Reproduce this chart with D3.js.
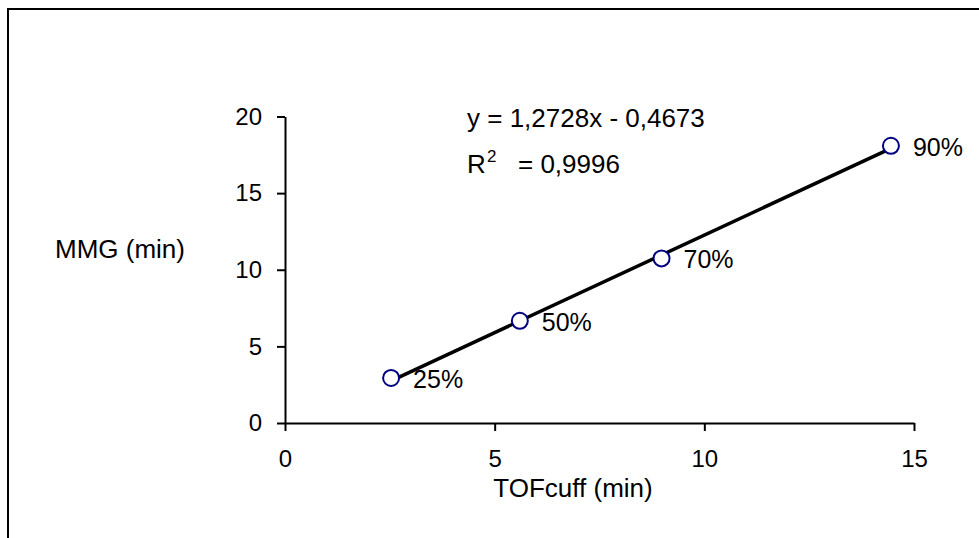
<!DOCTYPE html>
<html>
<head>
<meta charset="utf-8">
<script src="https://cdn.jsdelivr.net/npm/d3@7"></script>
<style>
  body { margin: 0; background: #fff; }
  svg text { font-family: Arial, "Liberation Sans", sans-serif; fill: #000; }
</style>
</head>
<body>
<div id="chart"></div>
<script>
// data
const tofCuff = [2.53, 5.60, 8.98, 14.45];
const mmg = [2.94, 6.67, 10.74, 18.09];
const pointLabels = ["25%", "50%", "70%", "90%"];
const xTicks = [0, 5, 10, 15];
const yTicks = [0, 5, 10, 15, 20];
const slope = 1.2728, intercept = -0.4673;
const eqText = "y = 1,2728x - 0,4673";
const r2Text = "= 0,9996";

const W = 979, H = 538;
const svg = d3.select("#chart").append("svg")
  .attr("width", W).attr("height", H);

// outer frame (runs off the right and bottom edges)
svg.append("rect")
  .attr("x", 8).attr("y", 9)
  .attr("width", 1000).attr("height", 600)
  .attr("fill", "none").attr("stroke", "#000").attr("stroke-width", 2);

const x = d3.scaleLinear().domain([0, 15]).range([285, 914]);
const y = d3.scaleLinear().domain([0, 20]).range([423, 116.5]);

// axes
const xAxis = svg.append("g")
  .attr("transform", `translate(0,${y(0)})`)
  .call(d3.axisBottom(x).tickValues(xTicks).tickSize(8).tickSizeOuter(0).tickPadding(19));
const yAxis = svg.append("g")
  .attr("transform", `translate(${x(0)},0)`)
  .call(d3.axisLeft(y).tickValues(yTicks).tickSize(8).tickSizeOuter(0).tickPadding(15));

[xAxis, yAxis].forEach(a => {
  a.select(".domain").attr("stroke", "#000").attr("stroke-width", 2);
  a.selectAll(".tick line").attr("stroke", "#000").attr("stroke-width", 2);
  a.selectAll(".tick text").attr("font-size", 24).attr("font-family", "Arial, 'Liberation Sans', sans-serif");
});

// trendline from the fitted equation
const xMin = d3.min(tofCuff), xMax = d3.max(tofCuff);
svg.append("line")
  .attr("x1", x(xMin)).attr("y1", y(slope * xMin + intercept))
  .attr("x2", x(xMax)).attr("y2", y(slope * xMax + intercept))
  .attr("stroke", "#000").attr("stroke-width", 3.5);

// points
const pts = tofCuff.map((v, i) => ({ x: v, y: mmg[i], label: pointLabels[i] }));
svg.selectAll(".pt")
  .data(pts)
  .enter()
  .append("circle")
  .attr("class", "pt")
  .attr("cx", d => x(d.x)).attr("cy", d => y(d.y))
  .attr("r", 8)
  .attr("fill", "#fff").attr("stroke", "#000080").attr("stroke-width", 2);

svg.selectAll(".ptlabel")
  .data(pts)
  .enter()
  .append("text")
  .attr("class", "ptlabel")
  .attr("x", d => x(d.x) + 22).attr("y", d => y(d.y) + 10)
  .attr("font-size", 25)
  .text(d => d.label);

// equation and R²
svg.append("text")
  .attr("x", 467).attr("y", 127)
  .attr("font-size", 26)
  .text(eqText);
svg.append("text")
  .attr("x", 467).attr("y", 173)
  .attr("font-size", 26)
  .text("R");
svg.append("text")
  .attr("x", 487).attr("y", 162)
  .attr("font-size", 17)
  .text("2");
svg.append("text")
  .attr("x", 518).attr("y", 173)
  .attr("font-size", 26)
  .text(r2Text);

// axis titles
svg.append("text")
  .attr("x", 55).attr("y", 258)
  .attr("font-size", 26)
  .text("MMG (min)");
svg.append("text")
  .attr("x", 573).attr("y", 497)
  .attr("text-anchor", "middle")
  .attr("font-size", 26)
  .text("TOFcuff (min)");
</script>
</body>
</html>
